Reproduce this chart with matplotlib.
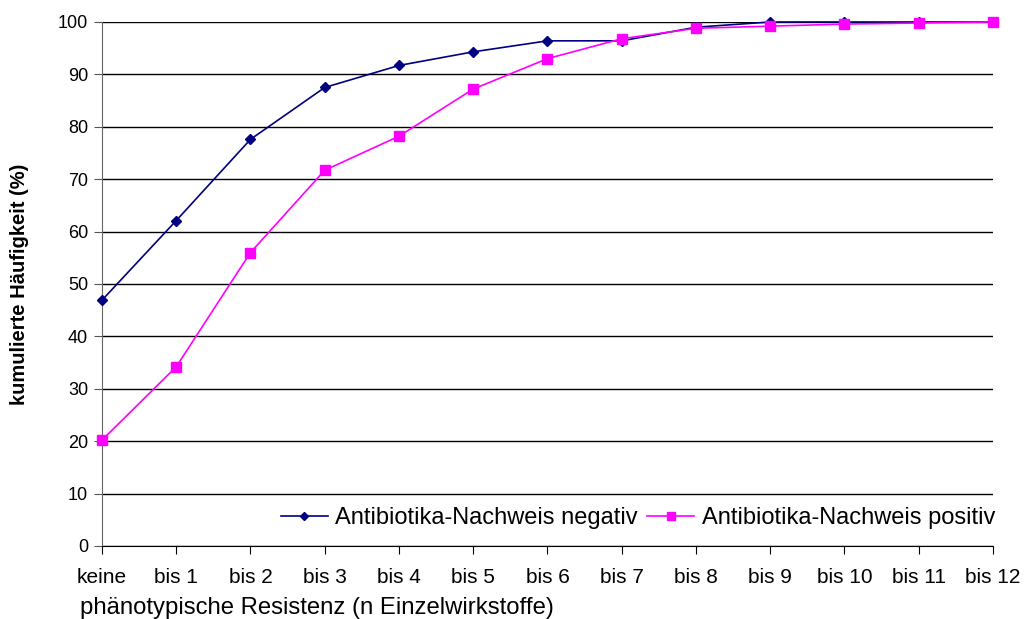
import matplotlib
matplotlib.use("Agg")
import matplotlib.pyplot as plt

categories = ["keine", "bis 1", "bis 2", "bis 3", "bis 4", "bis 5", "bis 6",
              "bis 7", "bis 8", "bis 9", "bis 10", "bis 11", "bis 12"]
negativ = [46.9, 62.1, 77.6, 87.5, 91.7, 94.3, 96.4, 96.4, 99.0, 100.0, 100.0, 100.0, 100.0]
positiv = [20.2, 34.2, 56.0, 71.7, 78.2, 87.2, 93.0, 96.8, 98.8, 99.2, 99.6, 99.8, 100.0]
yticks = list(range(0, 101, 10))

plt.rcParams['font.family'] = ['Liberation Sans', 'DejaVu Sans']

fig = plt.figure(figsize=(10.24, 6.19), dpi=100)
ax = fig.add_axes([0.0996, 0.118, 0.8701, 0.8465])

x = list(range(len(categories)))
ax.plot(x, negativ, color="#000080", lw=1.2, marker="D", ms=5.5,
        label="Antibiotika-Nachweis negativ", zorder=3, clip_on=False)
ax.plot(x, positiv, color="#FF00FF", lw=1.2, marker="s", ms=7,
        label="Antibiotika-Nachweis positiv", zorder=3, clip_on=False)

ax.set_xlim(0, len(categories) - 1)
ax.set_ylim(0, 100)
ax.set_yticks(yticks)
ax.set_yticklabels([str(v) for v in yticks], fontsize=13)
ax.set_xticks(x)
ax.set_xticklabels(categories, fontsize=15)
ax.tick_params(axis='x', direction='out', length=6, pad=10, color='black')
ax.tick_params(axis='y', direction='out', length=6, pad=4, color='#555555')

ax.yaxis.grid(True, color='black', lw=1)
ax.set_axisbelow(True)
for s in ['top', 'right']:
    ax.spines[s].set_visible(False)
ax.spines['left'].set_color('#666666')
ax.spines['bottom'].set_color('black')

ax.set_ylabel("kumulierte Häufigkeit (%)", fontsize=14.5, fontweight='bold')
ax.yaxis.set_label_coords(-0.082, 0.5)
fig.text(0.078, 0.0, "phänotypische Resistenz (n Einzelwirkstoffe)", fontsize=17.2,
         ha='left', va='bottom')

leg = ax.legend(loc='lower right', bbox_to_anchor=(1.026, -0.008), ncol=2, frameon=False,
                fontsize=17, handlelength=2.0, handletextpad=0.3, columnspacing=0.4,
                markerscale=0.75)

fig.savefig("out.png", dpi=100)
